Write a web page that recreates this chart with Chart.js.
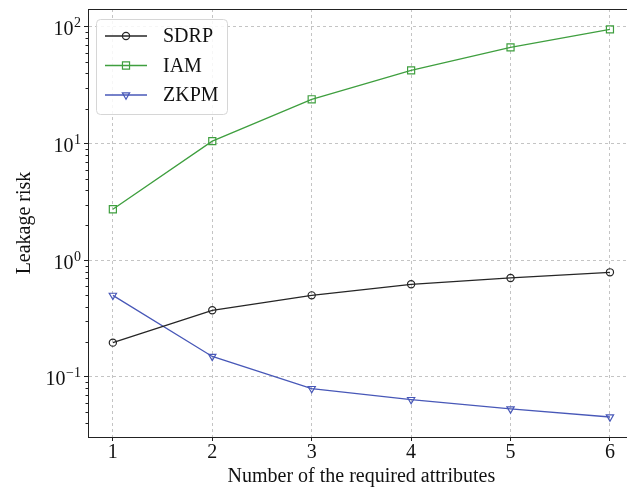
<!DOCTYPE html>
<html>
<head>
<meta charset="utf-8">
<script src="https://cdn.jsdelivr.net/npm/chart.js@4.4.0/dist/chart.umd.min.js"></script>
<style>
  html, body { margin: 0; padding: 0; background: #fff; overflow: hidden; }
  #wrap { width: 627px; height: 489px; overflow: hidden; position: relative; }
  #grafico { position: absolute; left: 0; top: 0; }
</style>
</head>
<body>
<div id="wrap"><canvas id="grafico" width="641" height="489"></canvas></div>
<script>
// data
const attributes = [1, 2, 3, 4, 5, 6];
const sdrp = [0.197, 0.373, 0.501, 0.623, 0.706, 0.789];
const iam = [2.74, 10.5, 24.0, 42.5, 66.9, 95.3];
const zkpm = [0.501, 0.150, 0.0795, 0.064, 0.0532, 0.0454];
const yExponents = [-1, 0, 1, 2];
const yExpLabels = ['\u22121', '0', '1', '2'];

const FONT = "'Liberation Serif', 'Times New Roman', serif";
const GRID = '#c4c4c4';
const AXIS = '#222';

function pts(vals) {
  return attributes.map((x, i) => ({ x: x, y: vals[i] }));
}

// spines, minor ticks, 10^n labels and the legend box
const extras = {
  id: 'extras',
  afterDraw(chart) {
    const { ctx, chartArea: a, scales: { y } } = chart;
    ctx.save();
    ctx.strokeStyle = AXIS;
    ctx.lineWidth = 1;
    ctx.strokeRect(Math.round(a.left) + 0.5, Math.round(a.top) + 0.5,
      Math.round(a.right - a.left), Math.round(a.bottom - a.top));

    // minor ticks on the log axis
    ctx.beginPath();
    for (let e = Math.floor(Math.log10(y.min)); e <= Math.ceil(Math.log10(y.max)); e++) {
      for (let m = 2; m <= 9; m++) {
        const v = m * Math.pow(10, e);
        if (v < y.min || v > y.max) continue;
        const py = Math.round(y.getPixelForValue(v)) + 0.5;
        ctx.moveTo(a.left - 2.5, py);
        ctx.lineTo(a.left, py);
      }
    }
    ctx.stroke();

    // tick labels 10^e
    ctx.fillStyle = '#111';
    ctx.textBaseline = 'alphabetic';
    yExponents.forEach((e, i) => {
      const py = y.getPixelForValue(Math.pow(10, e));
      const right = a.left - 7;
      ctx.font = '14px ' + FONT;
      const supW = ctx.measureText(yExpLabels[i]).width;
      ctx.textAlign = 'right';
      ctx.fillText(yExpLabels[i], right, py + 0.5);
      ctx.font = '20px ' + FONT;
      ctx.fillText('10', right - supW - 0.5, py + 8.5);
    });

    // legend
    const lx = a.left + 8.5, ly = a.top + 10.5, lw = 131, lh = 95;
    ctx.beginPath();
    ctx.roundRect(lx, ly, lw, lh, 4);
    ctx.fillStyle = 'rgba(255,255,255,0.85)';
    ctx.fill();
    ctx.strokeStyle = '#d6d6d6';
    ctx.stroke();
    chart.data.datasets.forEach((ds, i) => {
      const cy = a.top + 27 + i * 29.5;
      const x0 = a.left + 17, x1 = a.left + 59, cx = (x0 + x1) / 2;
      ctx.strokeStyle = ds.borderColor;
      ctx.lineWidth = ds.borderWidth;
      ctx.beginPath();
      ctx.moveTo(x0, cy);
      ctx.lineTo(x1, cy);
      ctx.stroke();
      ctx.fillStyle = 'rgba(0,0,0,0)';
      ctx.lineWidth = 1.2;
      Chart.helpers.drawPoint(ctx, {
        pointStyle: ds.pointStyle, rotation: ds.pointRotation || 0,
        radius: ds.pointRadius, borderWidth: 1.2
      }, cx, cy);
      ctx.fillStyle = '#111';
      ctx.font = '20px ' + FONT;
      ctx.textAlign = 'left';
      ctx.textBaseline = 'middle';
      ctx.fillText(ds.label, a.left + 75, cy + 1);
    });
    ctx.restore();
  }
};

const ctx = document.getElementById('grafico').getContext('2d');
new Chart(ctx, {
  type: 'line',
  data: {
    datasets: [{
      label: 'SDRP',
      data: pts(sdrp),
      borderColor: '#262626',
      borderWidth: 1.3,
      pointStyle: 'circle',
      pointRadius: 3.6,
      pointBorderWidth: 1.2,
      pointBackgroundColor: 'rgba(0,0,0,0)'
    }, {
      label: 'IAM',
      data: pts(iam),
      borderColor: '#3f9f3f',
      borderWidth: 1.3,
      pointStyle: 'rect',
      pointRadius: 5,
      pointBorderWidth: 1.2,
      pointBackgroundColor: 'rgba(0,0,0,0)'
    }, {
      label: 'ZKPM',
      data: pts(zkpm),
      borderColor: '#4858b8',
      borderWidth: 1.3,
      pointStyle: 'triangle',
      pointRotation: 180,
      pointRadius: 4.2,
      pointBorderWidth: 1.2,
      pointBackgroundColor: 'rgba(0,0,0,0)'
    }]
  },
  options: {
    responsive: false,
    animation: false,
    layout: { padding: { left: 0, right: 0, top: 9, bottom: 0 } },
    plugins: { legend: { display: false }, tooltip: { enabled: false } },
    elements: { line: { tension: 0 } },
    scales: {
      x: {
        type: 'linear',
        min: 0.75,
        max: 6.25,
        afterBuildTicks: s => { s.ticks = attributes.map(v => ({ value: v })); },
        afterFit: s => { s.height = 52; },
        grid: { color: GRID, tickColor: AXIS, tickLength: 4, lineWidth: 1 },
        border: { color: AXIS, width: 1, dash: [3, 3] },
        ticks: { color: '#111', padding: 0, font: { family: FONT, size: 20 } },
        title: {
          display: true,
          text: 'Number of the required attributes',
          color: '#111',
          padding: { top: 0, bottom: 0 },
          font: { family: FONT, size: 20 }
        }
      },
      y: {
        type: 'logarithmic',
        min: 0.0306,
        max: 142.6,
        afterBuildTicks: s => { s.ticks = yExponents.map(e => ({ value: Math.pow(10, e) })); },
        afterFit: s => { s.width = 88; },
        grid: { color: GRID, tickColor: AXIS, tickLength: 4, lineWidth: 1 },
        border: { color: AXIS, width: 1, dash: [3, 3] },
        ticks: { display: false },
        title: {
          display: true,
          text: 'Leakage risk',
          color: '#111',
          padding: { top: 13, bottom: 0 },
          font: { family: FONT, size: 20 }
        }
      }
    }
  },
  plugins: [extras]
});
</script>
</body>
</html>
